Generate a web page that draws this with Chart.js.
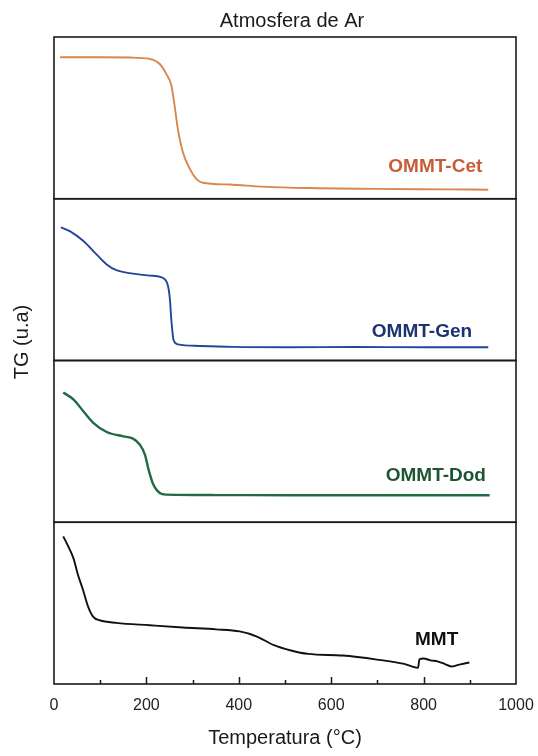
<!DOCTYPE html>
<html><head><meta charset="utf-8">
<script src="https://cdn.jsdelivr.net/npm/chart.js@4.4.0/dist/chart.umd.min.js"></script>
<style>html,body{margin:0;padding:0;background:#fff;}#wrap{width:538px;height:756px;}</style>
</head><body><div id="wrap"><canvas id="c" width="538" height="756"></canvas></div>
<script>
// ---- data (temperature in °C, TG in arbitrary units, each panel scaled 0-100) ----
const xTickLabels = [0, 200, 400, 600, 800, 1000];
const seriesNames = ['OMMT-Cet', 'OMMT-Gen', 'OMMT-Dod', 'MMT'];

const cetT  = [13, 100, 164, 207, 229, 243, 254, 261, 268, 279, 294, 308, 322, 380, 450, 550, 700, 850, 940];
const cetTG = [87.5, 87.5, 87.3, 86.5, 83.3, 77.2, 70, 57.6, 43.2, 28.8, 18.5, 12.3, 9.9, 8.8, 7.5, 6.6, 6.1, 5.8, 5.6];

const genT  = [15, 35, 63, 92, 114, 135, 171, 207, 236, 247, 251, 254, 259, 268, 315, 387, 510, 650, 800, 940];
const genTG = [82.3, 79.8, 74, 65.6, 59.4, 55.8, 53.7, 52.5, 51, 45.8, 37.5, 25, 12.5, 10, 9, 8.4, 8.2, 8.3, 8.2, 8.2];

const dodT  = [20, 42, 63, 85, 114, 150, 171, 186, 197, 204, 214, 229, 243, 350, 510, 700, 943];
const dodTG = [80.2, 76, 68.8, 61.5, 55.8, 53.1, 51.7, 47.9, 41.7, 33.3, 24, 18.1, 17.1, 16.8, 16.7, 16.7, 16.7];

const mmtT  = [20, 31, 42, 52, 63, 74, 85, 99, 135, 207, 279, 351, 402, 438, 476, 513, 550, 625, 699, 758, 788, 791, 800, 815, 830, 845, 860, 875, 899];
const mmtTG = [91.3, 85, 77.8, 67.4, 58, 47.7, 41.5, 39.4, 37.8, 36.3, 34.9, 33.8, 32.5, 29.5, 24, 20.7, 18.6, 17.6, 15.1, 12.4, 10, 15.3, 15.8, 14.6, 14, 12.5, 10.8, 11.8, 13.3];

// label anchors (right edge temperature, TG value)
const labelAnchorT  = [927, 905, 935, 875];
const labelAnchorTG = [20, 18, 28.5, 27.6];

const pts = (T, V) => T.map((t, i) => ({x: t, y: V[i]}));
const lineColors = ['#d98650', '#24469a', '#226a44', '#111111'];
const textColors = ['#c65d38', '#1c3370', '#1b5533', '#111111'];
const axisIds = ['yCet', 'yGen', 'yDod', 'yMMT'];
const FONT = '"Liberation Sans", Arial, sans-serif';

const seriesData = [pts(cetT, cetTG), pts(genT, genTG), pts(dodT, dodTG), pts(mmtT, mmtTG)];

const datasets = seriesData.map((d, i) => ({
  label: seriesNames[i], data: d, yAxisID: axisIds[i],
  borderColor: lineColors[i], borderWidth: i === 2 ? 2.4 : 1.9,
  pointRadius: 0, fill: false, tension: 0.35, cubicInterpolationMode: 'monotone'
}));

const yScale = () => ({
  type: 'linear', position: 'left', stack: 'tg', stackWeight: 1,
  min: 0, max: 100, display: true,
  ticks: {display: false}, grid: {display: false, drawTicks: false},
  border: {display: false}
});

const decor = {
  id: 'decor',
  afterDatasetsDraw(chart) {
    const {ctx, chartArea, scales} = chart;
    ctx.save();
    // panel frames
    ctx.strokeStyle = '#1a1a1a'; ctx.lineWidth = 1.6;
    axisIds.forEach(id => {
      const s = scales[id];
      ctx.strokeRect(chartArea.left, s.top, chartArea.right - chartArea.left, s.bottom - s.top);
    });
    // inward ticks on the bottom axis
    const x = scales.x, b = chartArea.bottom;
    ctx.lineWidth = 1.5;
    for (let v = 100; v < 1000; v += 100) {
      const px = Math.round(x.getPixelForValue(v)) + 0.5;
      const len = v % 200 === 0 ? 7 : 4;
      ctx.beginPath(); ctx.moveTo(px, b); ctx.lineTo(px, b - len); ctx.stroke();
    }
    // panel labels
    ctx.font = 'bold 19px ' + FONT;
    ctx.textAlign = 'right'; ctx.textBaseline = 'middle';
    axisIds.forEach((id, i) => {
      ctx.fillStyle = textColors[i];
      ctx.fillText(seriesNames[i], x.getPixelForValue(labelAnchorT[i]), scales[id].getPixelForValue(labelAnchorTG[i]));
    });
    // titles
    ctx.fillStyle = '#1a1a1a';
    ctx.textAlign = 'center';
    ctx.font = '20px ' + FONT;
    ctx.fillText('Atmosfera de Ar', 292, 21);
    ctx.translate(22, 342); ctx.rotate(-Math.PI / 2);
    ctx.fillText('TG (u.a)', 0, 0);
    ctx.restore();
  }
};

// stacked axes are placed bottom-up in definition order
const scales = {
  x: {
    type: 'linear', position: 'bottom', min: 0, max: 1000,
    afterBuildTicks: s => { s.ticks = xTickLabels.map(v => ({value: v})); },
    afterFit: s => { s.height = 70; },
    ticks: {font: {size: 16, family: FONT}, color: '#222', padding: 4, maxRotation: 0, callback: v => String(v)},
    grid: {drawOnChartArea: false, drawTicks: true, tickLength: 8, tickColor: 'rgba(0,0,0,0)'},
    border: {display: false},
    title: {display: true, text: 'Temperatura (°C)', font: {size: 20, family: FONT}, color: '#1a1a1a', padding: {top: 4, bottom: 4}}
  }
};
[...axisIds].reverse().forEach(id => { scales[id] = yScale(); });

new Chart(document.getElementById('c'), {
  type: 'line',
  data: {datasets},
  options: {
    responsive: false, animation: false, devicePixelRatio: 1,
    layout: {padding: {left: 54, right: 22, top: 37, bottom: 2}},
    plugins: {legend: {display: false}, tooltip: {enabled: false}, title: {display: false}},
    scales
  },
  plugins: [decor]
});
</script></body></html>
